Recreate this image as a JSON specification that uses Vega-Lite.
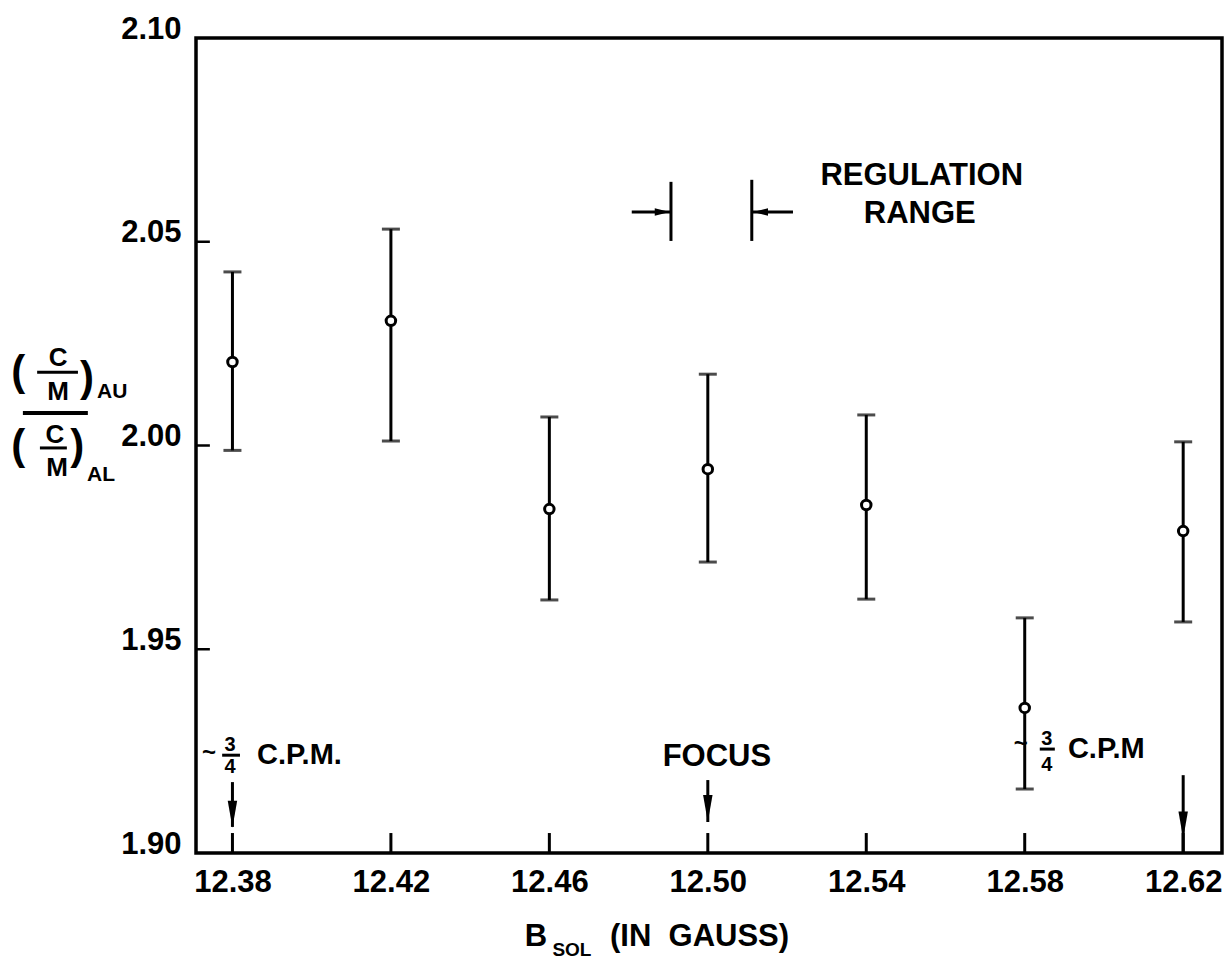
{
  "$schema": "https://vega.github.io/schema/vega-lite/v6.json",
  "width": 1026,
  "height": 815,
  "autosize": {"type": "none"},
  "padding": {"left": 196, "top": 38, "right": 2, "bottom": 121},
  "background": "white",
  "config": {
    "view": {"stroke": "black", "strokeWidth": 3.5},
    "font": "Liberation Sans",
    "axis": {"domain": false, "grid": false, "ticks": false, "labelColor": "black", "labelFont": "Liberation Sans", "labelFontSize": 31, "labelFontWeight": "bold", "labelFlush": false, "labelOverlap": false},
    "text": {"font": "Liberation Sans", "fontWeight": "bold", "color": "black"},
    "rule": {"color": "black"}
  },
  "datasets": {
    "pts": [
      {"B": 12.38, "r": 2.0205, "lo": 1.9988, "hi": 2.0426},
      {"B": 12.42, "r": 2.0306, "lo": 2.0011, "hi": 2.0531},
      {"B": 12.46, "r": 1.9844, "lo": 1.9621, "hi": 2.0070},
      {"B": 12.50, "r": 1.9942, "lo": 1.9714, "hi": 2.0175},
      {"B": 12.54, "r": 1.9854, "lo": 1.9623, "hi": 2.0075},
      {"B": 12.58, "r": 1.9356, "lo": 1.9157, "hi": 1.9577},
      {"B": 12.62, "r": 1.9790, "lo": 1.9567, "hi": 2.0009}
    ],
    "xticks": [
      {"x": 12.38, "y": 1.90, "y2": 1.9049},
      {"x": 12.42, "y": 1.90, "y2": 1.9049},
      {"x": 12.46, "y": 1.90, "y2": 1.9049},
      {"x": 12.50, "y": 1.90, "y2": 1.9049},
      {"x": 12.54, "y": 1.90, "y2": 1.9049},
      {"x": 12.58, "y": 1.90, "y2": 1.9049},
      {"x": 12.62, "y": 1.90, "y2": 1.9049}
    ],
    "yticks": [
      {"x": 12.3708, "x2": 12.3743, "y": 1.95},
      {"x": 12.3708, "x2": 12.3743, "y": 2.00},
      {"x": 12.3708, "x2": 12.3743, "y": 2.05}
    ],
    "vrules": [
      {"x": 12.4907, "y": 2.0502, "y2": 2.0647},
      {"x": 12.5111, "y": 2.0502, "y2": 2.0652},
      {"x": 12.38, "y": 1.9064, "y2": 1.9174},
      {"x": 12.50, "y": 1.9076, "y2": 1.9179},
      {"x": 12.62, "y": 1.90, "y2": 1.9191}
    ],
    "hrules": [
      {"x": 12.4808, "x2": 12.4907, "y": 2.0573, "w": "arrow"},
      {"x": 12.5111, "x2": 12.5215, "y": 2.0573, "w": "arrow"},
      {"x": 12.3774, "x2": 12.3819, "y": 1.9240, "w": "bar"},
      {"x": 12.5838, "x2": 12.5876, "y": 1.9255, "w": "bar"},
      {"x": 12.3307, "x2": 12.3410, "y": 2.0180, "w": "bar"},
      {"x": 12.3314, "x2": 12.3382, "y": 1.9994, "w": "bar"},
      {"x": 12.3271, "x2": 12.3435, "y": 2.0080, "w": "main"}
    ],
    "heads": [
      {"x": 12.4885, "y": 2.0573, "d": "right"},
      {"x": 12.5133, "y": 2.0573, "d": "left"},
      {"x": 12.38, "y": 1.9095, "d": "down"},
      {"x": 12.50, "y": 1.9109, "d": "down"},
      {"x": 12.62, "y": 1.9069, "d": "down"}
    ],
    "txt": [
      {"t": "REGULATION", "x": 12.5540, "y": 2.0661, "g": "big"},
      {"t": "RANGE", "x": 12.5535, "y": 2.0568, "g": "big"},
      {"t": "FOCUS", "x": 12.5023, "y": 1.9236, "g": "big"},
      {"t": "C.P.M.", "x": 12.3862, "y": 1.9240, "g": "cpm"},
      {"t": "C.P.M", "x": 12.5909, "y": 1.9255, "g": "cpm"},
      {"t": "3", "x": 12.3794, "y": 1.9265, "g": "frac"},
      {"t": "4", "x": 12.3794, "y": 1.9211, "g": "frac"},
      {"t": "3", "x": 12.5856, "y": 1.9280, "g": "frac"},
      {"t": "4", "x": 12.5856, "y": 1.9216, "g": "frac"},
      {"t": "~", "x": 12.3741, "y": 1.9245, "g": "tilde"},
      {"t": "~", "x": 12.5790, "y": 1.9267, "g": "tilde"},
      {"t": "(", "x": 12.3259, "y": 2.0180, "g": "paren"},
      {"t": ")", "x": 12.3433, "y": 2.0166, "g": "paren"},
      {"t": "(", "x": 12.3259, "y": 1.9999, "g": "paren"},
      {"t": ")", "x": 12.3408, "y": 1.9999, "g": "paren"},
      {"t": "C", "x": 12.3360, "y": 2.0215, "g": "cm"},
      {"t": "M", "x": 12.3360, "y": 2.0131, "g": "cm"},
      {"t": "C", "x": 12.3352, "y": 2.0026, "g": "cm"},
      {"t": "M", "x": 12.3357, "y": 1.9945, "g": "cm"},
      {"t": "AU", "x": 12.3458, "y": 2.0131, "g": "sub"},
      {"t": "AL", "x": 12.3433, "y": 1.9928, "g": "sub"},
      {"t": "B", "x": 12.4566, "y": 1.8794, "g": "xt"},
      {"t": "SOL", "x": 12.4657, "y": 1.8762, "g": "xsub"},
      {"t": "(IN\u00a0\u00a0GAUSS)", "x": 12.4753, "y": 1.8794, "g": "xrest"}
    ]
  },
  "layer": [
    {
      "data": {"name": "pts"},
      "mark": {"type": "rule", "strokeWidth": 3},
      "encoding": {
        "x": {"field": "B", "type": "quantitative", "title": null,
              "scale": {"domain": [12.3708, 12.6298], "nice": false, "zero": false},
              "axis": {"values": [12.38, 12.42, 12.46, 12.50, 12.54, 12.58, 12.62], "format": ".2f", "labelPadding": 14, "labelBaseline": "top"}},
        "y": {"field": "lo", "type": "quantitative", "title": null,
              "scale": {"domain": [1.90, 2.10], "nice": false, "zero": false},
              "axis": {"values": [1.90, 1.95, 2.00, 2.05, 2.10], "format": ".2f", "labelPadding": 15, "labelBaseline": "alphabetic"}},
        "y2": {"field": "hi"}
      }
    },
    {
      "data": {"name": "xticks"},
      "mark": {"type": "rule", "strokeWidth": 3},
      "encoding": {
        "x": {"field": "x", "type": "quantitative", "title": null},
        "y": {"field": "y", "type": "quantitative", "title": null},
        "y2": {"field": "y2"}
      }
    },
    {
      "data": {"name": "yticks"},
      "mark": {"type": "rule", "strokeWidth": 2.5},
      "encoding": {
        "x": {"field": "x", "type": "quantitative", "title": null},
        "x2": {"field": "x2"},
        "y": {"field": "y", "type": "quantitative", "title": null}
      }
    },
    {
      "data": {"name": "pts"},
      "mark": {"type": "tick", "orient": "horizontal", "size": 18, "thickness": 3, "color": "black"},
      "encoding": {
        "x": {"field": "B", "type": "quantitative", "title": null},
        "y": {"field": "lo", "type": "quantitative", "title": null}
      }
    },
    {
      "data": {"name": "pts"},
      "mark": {"type": "tick", "orient": "horizontal", "size": 18, "thickness": 3, "color": "black"},
      "encoding": {
        "x": {"field": "B", "type": "quantitative", "title": null},
        "y": {"field": "hi", "type": "quantitative", "title": null}
      }
    },
    {
      "data": {"name": "pts"},
      "mark": {"type": "point", "shape": "circle", "filled": true, "fill": "white", "stroke": "black", "strokeWidth": 3, "size": 90, "opacity": 1},
      "encoding": {
        "x": {"field": "B", "type": "quantitative", "title": null},
        "y": {"field": "r", "type": "quantitative", "title": null}
      }
    },
    {
      "data": {"name": "vrules"},
      "mark": {"type": "rule", "strokeWidth": 3},
      "encoding": {
        "x": {"field": "x", "type": "quantitative", "title": null},
        "y": {"field": "y", "type": "quantitative", "title": null},
        "y2": {"field": "y2"}
      }
    },
    {
      "data": {"name": "hrules"},
      "transform": [{"filter": "datum.w != 'main'"}],
      "mark": {"type": "rule", "strokeWidth": 3},
      "encoding": {
        "x": {"field": "x", "type": "quantitative", "title": null},
        "x2": {"field": "x2"},
        "y": {"field": "y", "type": "quantitative", "title": null}
      }
    },
    {
      "data": {"name": "hrules"},
      "transform": [{"filter": "datum.w == 'main'"}],
      "mark": {"type": "rule", "strokeWidth": 4},
      "encoding": {
        "x": {"field": "x", "type": "quantitative", "title": null},
        "x2": {"field": "x2"},
        "y": {"field": "y", "type": "quantitative", "title": null}
      }
    },
    {
      "data": {"name": "heads"},
      "transform": [{"filter": "datum.d == 'right'"}],
      "mark": {"type": "point", "shape": "M-1,-0.5L1,0L-1,0.5Z", "filled": true, "color": "black", "size": 225, "opacity": 1},
      "encoding": {
        "x": {"field": "x", "type": "quantitative", "title": null},
        "y": {"field": "y", "type": "quantitative", "title": null}
      }
    },
    {
      "data": {"name": "heads"},
      "transform": [{"filter": "datum.d == 'left'"}],
      "mark": {"type": "point", "shape": "M1,-0.5L-1,0L1,0.5Z", "filled": true, "color": "black", "size": 225, "opacity": 1},
      "encoding": {
        "x": {"field": "x", "type": "quantitative", "title": null},
        "y": {"field": "y", "type": "quantitative", "title": null}
      }
    },
    {
      "data": {"name": "heads"},
      "transform": [{"filter": "datum.d == 'down'"}],
      "mark": {"type": "point", "shape": "M-0.35,-1L0.35,-1L0,1Z", "filled": true, "color": "black", "size": 729, "opacity": 1},
      "encoding": {
        "x": {"field": "x", "type": "quantitative", "title": null},
        "y": {"field": "y", "type": "quantitative", "title": null}
      }
    },
    {
      "data": {"name": "txt"},
      "transform": [{"filter": "datum.g == 'big'"}],
      "mark": {"type": "text", "fontSize": 31, "align": "center", "baseline": "middle"},
      "encoding": {"x": {"field": "x", "type": "quantitative", "title": null}, "y": {"field": "y", "type": "quantitative", "title": null}, "text": {"field": "t"}}
    },
    {
      "data": {"name": "txt"},
      "transform": [{"filter": "datum.g == 'cpm'"}],
      "mark": {"type": "text", "fontSize": 29, "align": "left", "baseline": "middle"},
      "encoding": {"x": {"field": "x", "type": "quantitative", "title": null}, "y": {"field": "y", "type": "quantitative", "title": null}, "text": {"field": "t"}}
    },
    {
      "data": {"name": "txt"},
      "transform": [{"filter": "datum.g == 'frac'"}],
      "mark": {"type": "text", "fontSize": 20, "align": "center", "baseline": "middle"},
      "encoding": {"x": {"field": "x", "type": "quantitative", "title": null}, "y": {"field": "y", "type": "quantitative", "title": null}, "text": {"field": "t"}}
    },
    {
      "data": {"name": "txt"},
      "transform": [{"filter": "datum.g == 'tilde'"}],
      "mark": {"type": "text", "fontSize": 24, "align": "center", "baseline": "middle"},
      "encoding": {"x": {"field": "x", "type": "quantitative", "title": null}, "y": {"field": "y", "type": "quantitative", "title": null}, "text": {"field": "t"}}
    },
    {
      "data": {"name": "txt"},
      "transform": [{"filter": "datum.g == 'paren'"}],
      "mark": {"type": "text", "fontSize": 42, "align": "center", "baseline": "middle"},
      "encoding": {"x": {"field": "x", "type": "quantitative", "title": null}, "y": {"field": "y", "type": "quantitative", "title": null}, "text": {"field": "t"}}
    },
    {
      "data": {"name": "txt"},
      "transform": [{"filter": "datum.g == 'cm'"}],
      "mark": {"type": "text", "fontSize": 26, "align": "center", "baseline": "middle"},
      "encoding": {"x": {"field": "x", "type": "quantitative", "title": null}, "y": {"field": "y", "type": "quantitative", "title": null}, "text": {"field": "t"}}
    },
    {
      "data": {"name": "txt"},
      "transform": [{"filter": "datum.g == 'sub'"}],
      "mark": {"type": "text", "fontSize": 21, "align": "left", "baseline": "middle"},
      "encoding": {"x": {"field": "x", "type": "quantitative", "title": null}, "y": {"field": "y", "type": "quantitative", "title": null}, "text": {"field": "t"}}
    },
    {
      "data": {"name": "txt"},
      "transform": [{"filter": "datum.g == 'xt'"}],
      "mark": {"type": "text", "fontSize": 31, "align": "center", "baseline": "middle"},
      "encoding": {"x": {"field": "x", "type": "quantitative", "title": null}, "y": {"field": "y", "type": "quantitative", "title": null}, "text": {"field": "t"}}
    },
    {
      "data": {"name": "txt"},
      "transform": [{"filter": "datum.g == 'xsub'"}],
      "mark": {"type": "text", "fontSize": 19, "align": "center", "baseline": "middle"},
      "encoding": {"x": {"field": "x", "type": "quantitative", "title": null}, "y": {"field": "y", "type": "quantitative", "title": null}, "text": {"field": "t"}}
    },
    {
      "data": {"name": "txt"},
      "transform": [{"filter": "datum.g == 'xrest'"}],
      "mark": {"type": "text", "fontSize": 31, "align": "left", "baseline": "middle"},
      "encoding": {"x": {"field": "x", "type": "quantitative", "title": null}, "y": {"field": "y", "type": "quantitative", "title": null}, "text": {"field": "t"}}
    }
  ]
}
